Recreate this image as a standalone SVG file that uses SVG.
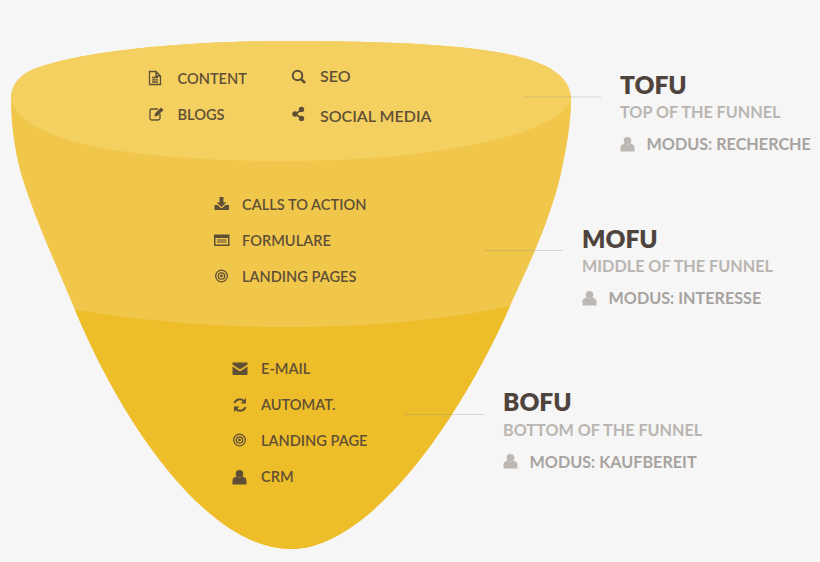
<svg xmlns="http://www.w3.org/2000/svg" width="820" height="562" viewBox="0 0 820 562">
<style>
text{font-family:"Lato","Liberation Sans",sans-serif}
.i{font-size:14.6px;font-weight:600;fill:#5f4f36}
.b{font-size:16px}
.h{font-size:24.5px;font-weight:800;fill:#4f443d}
.s{font-size:16.200px;font-weight:700;fill:#bab5b1}
.m{font-size:16.200px;font-weight:700;fill:#a8a3a0}
.g{fill:#5f4f36}
.o{fill:none;stroke:#5f4f36;stroke-width:1.300}
.u{fill:#bdb8b4}
.c{stroke:#8d8a80;stroke-opacity:.3;stroke-width:1;fill:none}
</style>
<defs>
<g id="user"><circle cx="0" cy="-3.2" r="3.8"/><path d="M-7,7.500V3.400C-7,1-4,-.2-2.400,-.4L0,1L2.400,-.4C4,-.2 7,1 7,3.400V7.500Z"/></g>
<g id="target"><circle r="5.800" class="o"/><circle r="3.200" class="o"/><circle r="1.400" class="g"/></g>
</defs>
<rect width="820" height="562" fill="#f6f6f6"/>
<g id="funnel">
<path id="funnel-body" fill="#f1c74b" d="M11,100C11,90 14,83 22,76C44,58 150,41 291,41C400,41 490,46 530,60C555,68 571,80 571,100C571,125 566,150 560,178C548,225 530,262 510,306C460,420 370,549 291,549C210,549 125,430 75,310C55,262 33,215 20,170C15,150 11,125 11,100Z"/>
<path id="funnel-bottom" fill="#eebd2a" d="M75,310C140,320 215,328 290,327C370,327 445,320 510,306C460,420 370,549 291,549C210,549 125,430 75,310Z"/>
<path id="funnel-top" fill="#f4d060" d="M11,100C11,90 14,83 22,76C44,58 150,41 291,41C400,41 490,46 530,60C555,68 571,80 571,100C555,138 420,161 291,161C140,161 25,145 11,100Z"/>
</g>
<g id="connectors">
<line class="c" x1="523" y1="97" x2="601" y2="97"/>
<line class="c" x1="484" y1="250.500" x2="563" y2="250.500"/>
<line class="c" x1="405" y1="414.500" x2="484" y2="414.500"/>
</g>
<g id="tofu-items">
<g id="item-content"><path class="o" d="M149.500,71.500H156L160.500,76V84.500H149.500ZM156,71.500V76H160.500M152,77.500H158M152,79.800H158M152,82H158"/><text class="i" x="177.500" y="83.500">CONTENT</text></g>
<g id="item-blogs"><path class="o" d="M160,114V118.500C160,119.500 159,120 158,120H151.500C150.500,120 150,119.500 150,118.500V110.500C150,109.500 150.500,109 151.500,109H158"/><path class="g" d="M155,113.500L161,107.500L163.500,110L157.500,116L154.500,116.500Z"/><text class="i" x="177.500" y="119.500">BLOGS</text></g>
<g id="item-seo"><circle class="o" cx="297.500" cy="75.500" r="4.800" style="stroke-width:2"/><path class="o" d="M301,79L305,83" style="stroke-width:2.500"/><text class="i b" x="320" y="81.500">SEO</text></g>
<g id="item-social"><path class="o" d="M301.500,110L295,114L301.500,118" style="stroke-width:1.600"/><circle class="g" cx="301.500" cy="109.500" r="2.700"/><circle class="g" cx="295" cy="114" r="2.700"/><circle class="g" cx="301.500" cy="118.500" r="2.700"/><text class="i b" x="320" y="121.500">SOCIAL MEDIA</text></g>
</g>
<g id="mofu-items">
<g id="item-cta"><path class="g" d="M219.500,197H223.500V202.500H226.500L221.500,207L216.500,202.500H219.500ZM214.500,205H217.500L221.500,208.500L225.500,205H229V210H214.500Z"/><text class="i" x="242" y="209.500">CALLS TO ACTION</text></g>
<g id="item-form"><path class="g" fill-rule="evenodd" d="M214,234.500H229.500V246H214ZM215.500,238V244.500H228V238Z"/><path class="g" d="M217,239.500H226.500V240.500H217ZM217,241.500H226.500V242.500H217Z"/><text class="i" x="242" y="245.500">FORMULARE</text></g>
<g id="item-landing-pages"><use href="#target" x="221.500" y="276"/><text class="i" x="242" y="281.500">LANDING PAGES</text></g>
</g>
<g id="bofu-items">
<g id="item-email"><path class="g" d="M232.500,362.500H247.500V364.500L240,369.500L232.500,364.500ZM232.500,366.500L240,371.500L247.500,366.500V375H232.500Z"/><text class="i" x="261" y="373.500">E-MAIL</text></g>
<g id="item-automat"><path class="o" style="stroke-width:2" d="M234.500,403C235.500,399.500 241,397.500 244.500,401.500M245.500,407C244.500,410.500 239,412.500 235.500,408.500"/><path class="g" d="M246,398V403.500H240.500ZM234,412V406.500H239.500Z"/><text class="i" x="261" y="409.500">AUTOMAT.</text></g>
<g id="item-landing-page"><use href="#target" x="239.500" y="440"/><text class="i" x="261" y="445.500">LANDING PAGE</text></g>
<g id="item-crm"><use href="#user" x="239.500" y="477" class="g"/><text class="i" x="261" y="481.500">CRM</text></g>
</g>
<g id="tofu-label"><text class="h" x="620" y="93.500">TOFU</text><text class="s" x="620" y="118">TOP OF THE FUNNEL</text><use href="#user" x="627.500" y="144" class="u"/><text class="m" x="646.500" y="150">MODUS: RECHERCHE</text></g>
<g id="mofu-label"><text class="h" x="582" y="247.500">MOFU</text><text class="s" x="582" y="272">MIDDLE OF THE FUNNEL</text><use href="#user" x="589.500" y="298" class="u"/><text class="m" x="608.500" y="304">MODUS: INTERESSE</text></g>
<g id="bofu-label"><text class="h" x="503" y="411">BOFU</text><text class="s" x="503" y="435.500">BOTTOM OF THE FUNNEL</text><use href="#user" x="510.500" y="461" class="u"/><text class="m" x="529.500" y="467.500">MODUS: KAUFBEREIT</text></g>
</svg>
